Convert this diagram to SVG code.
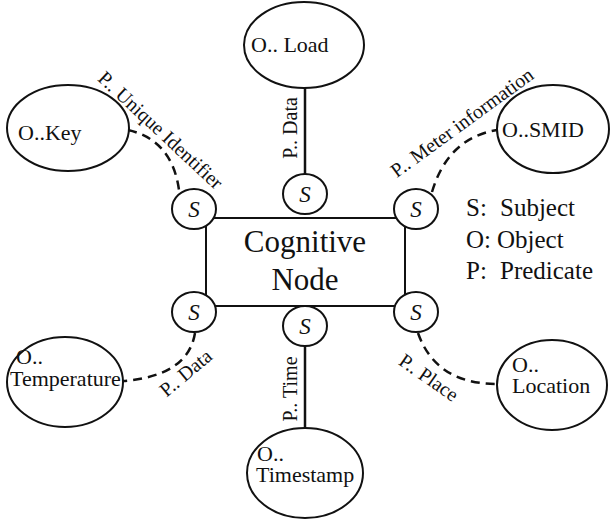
<svg xmlns="http://www.w3.org/2000/svg" width="610" height="521" viewBox="0 0 610 521">
  <defs>
    <ellipse id="subject-shape" cx="0" cy="0" rx="22" ry="20" fill="#fff" stroke="#111" stroke-width="2"/>
  </defs>

  <!-- predicate connectors -->
  <g id="connectors" fill="none" stroke="#111" stroke-width="2.5">
    <line x1="305" y1="87" x2="305" y2="174"/>
    <line x1="305" y1="344" x2="305" y2="429"/>
    <path stroke-dasharray="9 6" d="M128,130 Q172,140 179,190"/>
    <path stroke-dasharray="9 6" d="M432,192 Q448,138 497,130"/>
    <path stroke-dasharray="9 6" d="M195,333 Q188,376 123,381"/>
    <path stroke-dasharray="9 6" d="M418,333 Q436,384 497,384"/>
  </g>
  <g id="predicate-labels" font-size="20" fill="#111" text-anchor="middle">
    <text transform="translate(297,128) rotate(-90)"><tspan font-family="Liberation Serif" style="font-family:'Liberation Serif',serif !important">P.. Data</tspan></text>
    <text transform="translate(297,389) rotate(-90)"><tspan font-family="Liberation Serif" style="font-family:'Liberation Serif',serif !important">P.. Time</tspan></text>
    <text transform="translate(156,135) rotate(43)"><tspan font-family="Liberation Serif" style="font-family:'Liberation Serif',serif !important">P.. Unique Identifier</tspan></text>
    <text transform="translate(466,128) rotate(-36)"><tspan font-family="Liberation Serif" style="font-family:'Liberation Serif',serif !important">P.. Meter information</tspan></text>
    <text transform="translate(190,378) rotate(-40)"><tspan font-family="Liberation Serif" style="font-family:'Liberation Serif',serif !important">P.. Data</tspan></text>
    <text transform="translate(425,383) rotate(35)"><tspan font-family="Liberation Serif" style="font-family:'Liberation Serif',serif !important">P.. Place</tspan></text>
  </g>

  <!-- central node -->
  <g id="cognitive-node" fill="#111" font-size="31" text-anchor="middle">
    <rect x="206" y="218" width="199" height="88" rx="9" fill="#fff" stroke="#111" stroke-width="2"/>
    <text x="305" y="252"><tspan font-family="Liberation Serif" style="font-family:'Liberation Serif',serif !important">Cognitive</tspan></text>
    <text x="305" y="290"><tspan font-family="Liberation Serif" style="font-family:'Liberation Serif',serif !important">Node</tspan></text>
  </g>

  <!-- subject nodes -->
  <g id="s-top" fill="#111" font-size="23" font-style="italic" text-anchor="middle"><use href="#subject-shape" x="305" y="194"/><text x="305" y="202"><tspan font-family="Liberation Serif" style="font-family:'Liberation Serif',serif !important">S</tspan></text></g>
  <g id="s-top-left" fill="#111" font-size="23" font-style="italic" text-anchor="middle"><use href="#subject-shape" x="194" y="209"/><text x="194" y="217"><tspan font-family="Liberation Serif" style="font-family:'Liberation Serif',serif !important">S</tspan></text></g>
  <g id="s-top-right" fill="#111" font-size="23" font-style="italic" text-anchor="middle"><use href="#subject-shape" x="416" y="209"/><text x="416" y="217"><tspan font-family="Liberation Serif" style="font-family:'Liberation Serif',serif !important">S</tspan></text></g>
  <g id="s-bottom-left" fill="#111" font-size="23" font-style="italic" text-anchor="middle"><use href="#subject-shape" x="194" y="312"/><text x="194" y="320"><tspan font-family="Liberation Serif" style="font-family:'Liberation Serif',serif !important">S</tspan></text></g>
  <g id="s-bottom-right" fill="#111" font-size="23" font-style="italic" text-anchor="middle"><use href="#subject-shape" x="416" y="312"/><text x="416" y="320"><tspan font-family="Liberation Serif" style="font-family:'Liberation Serif',serif !important">S</tspan></text></g>
  <g id="s-bottom" fill="#111" font-size="23" font-style="italic" text-anchor="middle"><use href="#subject-shape" x="305" y="326"/><text x="305" y="334"><tspan font-family="Liberation Serif" style="font-family:'Liberation Serif',serif !important">S</tspan></text></g>

  <!-- object nodes -->
  <g id="o-load" fill="#111" font-size="22"><ellipse cx="304" cy="45" rx="60" ry="43" fill="#fff" stroke="#111" stroke-width="2"/><text x="251" y="52"><tspan font-family="Liberation Serif" style="font-family:'Liberation Serif',serif !important">O.. Load</tspan></text></g>
  <g id="o-key" fill="#111" font-size="22"><ellipse cx="68" cy="128" rx="61" ry="43" fill="#fff" stroke="#111" stroke-width="2"/><text x="18" y="140"><tspan font-family="Liberation Serif" style="font-family:'Liberation Serif',serif !important">O..Key</tspan></text></g>
  <g id="o-smid" fill="#111" font-size="22"><ellipse cx="553" cy="129" rx="56" ry="44" fill="#fff" stroke="#111" stroke-width="2"/><text x="502" y="137"><tspan font-family="Liberation Serif" style="font-family:'Liberation Serif',serif !important">O..SMID</tspan></text></g>
  <g id="o-temperature" fill="#111" font-size="22"><ellipse cx="65" cy="382" rx="58" ry="45" fill="#fff" stroke="#111" stroke-width="2"/><text x="16" y="364"><tspan font-family="Liberation Serif" style="font-family:'Liberation Serif',serif !important">O..</tspan></text><text x="10" y="386"><tspan font-family="Liberation Serif" style="font-family:'Liberation Serif',serif !important">Temperature</tspan></text></g>
  <g id="o-location" fill="#111" font-size="22"><ellipse cx="552" cy="385" rx="55" ry="45" fill="#fff" stroke="#111" stroke-width="2"/><text x="512" y="372"><tspan font-family="Liberation Serif" style="font-family:'Liberation Serif',serif !important">O..</tspan></text><text x="512" y="393"><tspan font-family="Liberation Serif" style="font-family:'Liberation Serif',serif !important">Location</tspan></text></g>
  <g id="o-timestamp" fill="#111" font-size="22"><ellipse cx="305" cy="473" rx="58" ry="45" fill="#fff" stroke="#111" stroke-width="2"/><text x="257" y="461"><tspan font-family="Liberation Serif" style="font-family:'Liberation Serif',serif !important">O..</tspan></text><text x="256" y="482"><tspan font-family="Liberation Serif" style="font-family:'Liberation Serif',serif !important">Timestamp</tspan></text></g>

  <!-- key -->
  <g id="legend" fill="#111" font-size="25">
    <text x="466" y="216"><tspan font-family="Liberation Serif" style="font-family:'Liberation Serif',serif !important">S:</tspan></text><text x="500" y="216"><tspan font-family="Liberation Serif" style="font-family:'Liberation Serif',serif !important">Subject</tspan></text>
    <text x="466" y="248"><tspan font-family="Liberation Serif" style="font-family:'Liberation Serif',serif !important">O:</tspan></text><text x="497" y="248"><tspan font-family="Liberation Serif" style="font-family:'Liberation Serif',serif !important">Object</tspan></text>
    <text x="466" y="279"><tspan font-family="Liberation Serif" style="font-family:'Liberation Serif',serif !important">P:</tspan></text><text x="500" y="279"><tspan font-family="Liberation Serif" style="font-family:'Liberation Serif',serif !important">Predicate</tspan></text>
  </g>
</svg>
